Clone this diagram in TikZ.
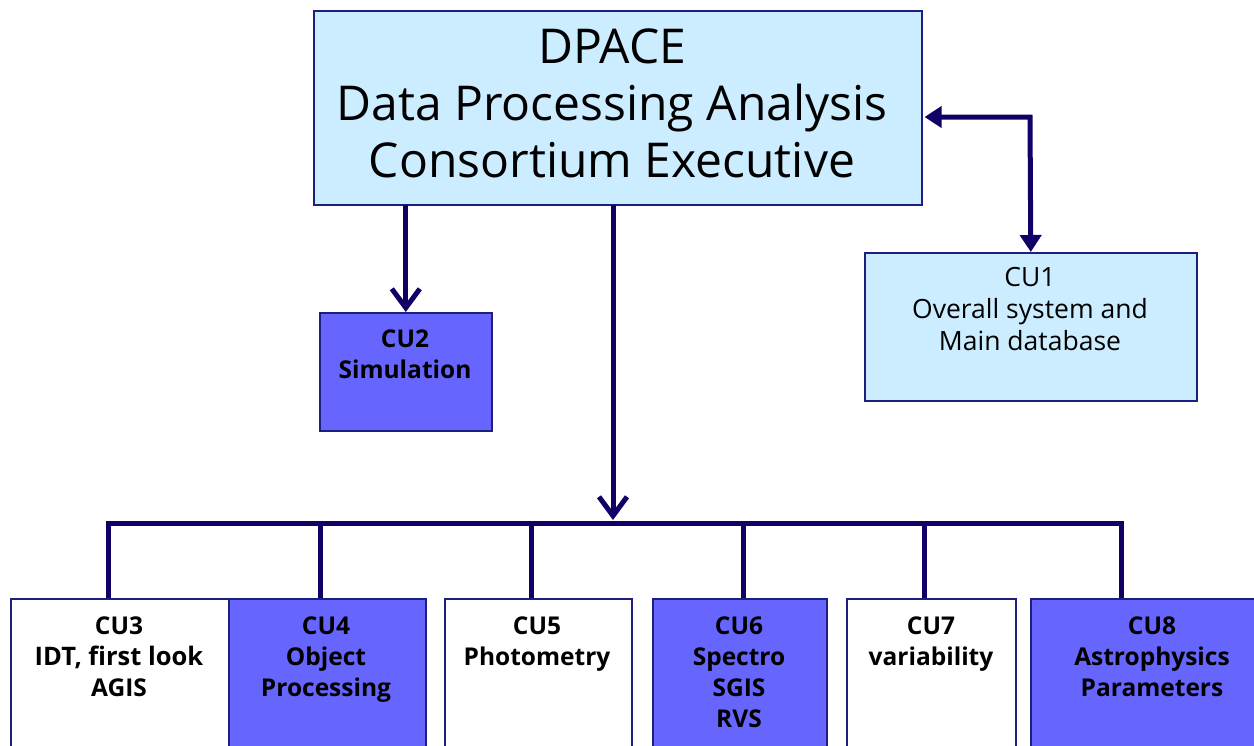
\documentclass[tikz,border=0pt]{standalone}
\usepackage{fontspec}
\setmainfont{Open Sans}
\usetikzlibrary{arrows.meta,calc}
\definecolor{navy}{RGB}{17,0,102}
\definecolor{pale}{RGB}{204,236,255}
\definecolor{violet}{RGB}{102,102,255}
\definecolor{rim}{RGB}{30,30,125}
\begin{document}
\begin{tikzpicture}[x=1pt,y=-1pt,
  unit/.style={draw=rim, line width=1.6pt, inner sep=0pt, anchor=north west},
  head/.style={inner sep=0pt, anchor=north, align=center, font=\fontsize{48}{57}\selectfont},
  plain/.style={inner sep=0pt, anchor=north, align=center, font=\fontsize{26.5}{32}\selectfont},
  strong/.style={inner sep=0pt, anchor=north, align=center, font=\fontsize{24.5}{31}\selectfont\bfseries},
  link/.style={draw=navy, line width=5pt},
  barb/.style={-{Straight Barb[length=19pt,width=28pt,line width=5pt]}},
  both/.style={{Triangle[length=17pt,width=21pt]}-{Triangle[length=17pt,width=21pt]}}]
\useasboundingbox (0,0) rectangle (1254,745);
\clip (0,0) rectangle (1254,745);

% executive box and the two side units
\node[unit, fill=pale, minimum width=608pt, minimum height=194pt] (dpace) at (313,10) {};
\node[unit, fill=violet, minimum width=172pt, minimum height=118pt] (cu2) at (319,312) {};
\node[unit, fill=pale, minimum width=332pt, minimum height=148pt] (cu1) at (864,252) {};

% coordination units along the bottom row
\node[unit, fill=white,  minimum width=218pt, minimum height=170pt] (cu3) at (10,598) {};
\node[unit, fill=violet, minimum width=197pt, minimum height=170pt] (cu4) at (228,598) {};
\node[unit, fill=white,  minimum width=187pt, minimum height=170pt] (cu5) at (444,598) {};
\node[unit, fill=violet, minimum width=174pt, minimum height=170pt] (cu6) at (652,598) {};
\node[unit, fill=white,  minimum width=169pt, minimum height=170pt] (cu7) at (846,598) {};
\node[unit, fill=violet, minimum width=240pt, minimum height=170pt] (cu8) at (1030,598) {};

% labels
\node[head] (tdpace) at (612,29) {DPACE\\Data Processing Analysis\\Consortium Executive};
\node[strong] (tcu2) at (405,330) {CU2\\Simulation};
\node[plain] (tcu1) at (1030,267) {CU1\\Overall system and\\Main database};
\node[strong] (tcu3) at (119,617) {CU3\\{\fontsize{25.5}{31}\selectfont IDT, first look}\\AGIS};
\node[strong] (tcu4) at (326,617) {CU4\\Object\\Processing};
\node[strong] (tcu5) at (537,617) {CU5\\Photometry};
\node[strong] (tcu6) at (739,617) {CU6\\Spectro\\SGIS\\RVS};
\node[strong] (tcu7) at (931,617) {CU7\\variability};
\node[strong] (tcu8) at (1152,617) {CU8\\Astrophysics\\Parameters};

% distribution bus
\coordinate (hub) at (613,520);
\coordinate (b3) at (108,523);
\coordinate (b4) at (320,523);
\coordinate (b5) at (531,523);
\coordinate (b6) at (743,523);
\coordinate (b7) at (924,523);
\coordinate (b8) at (1121,523);
\coordinate (side) at (1030,117);

\draw[link] ([xshift=-2.5pt]b3) -- ([xshift=2.5pt]b8);
\foreach \b/\u in {b3/cu3,b4/cu4,b5/cu5,b6/cu6,b7/cu7,b8/cu8}
  \draw[link] (\b) -- (\b |- \u.north);

% connectors from the executive
\draw[link, barb] ([yshift=1pt]dpace.south -| hub) -- (hub);
\draw[link, barb] ([yshift=1pt]dpace.south -| cu2.north) -- (cu2.north);
\draw[link, both] ([xshift=2pt]dpace.east |- side) -- (side) -- (cu1.north);
\end{tikzpicture}
\end{document}
